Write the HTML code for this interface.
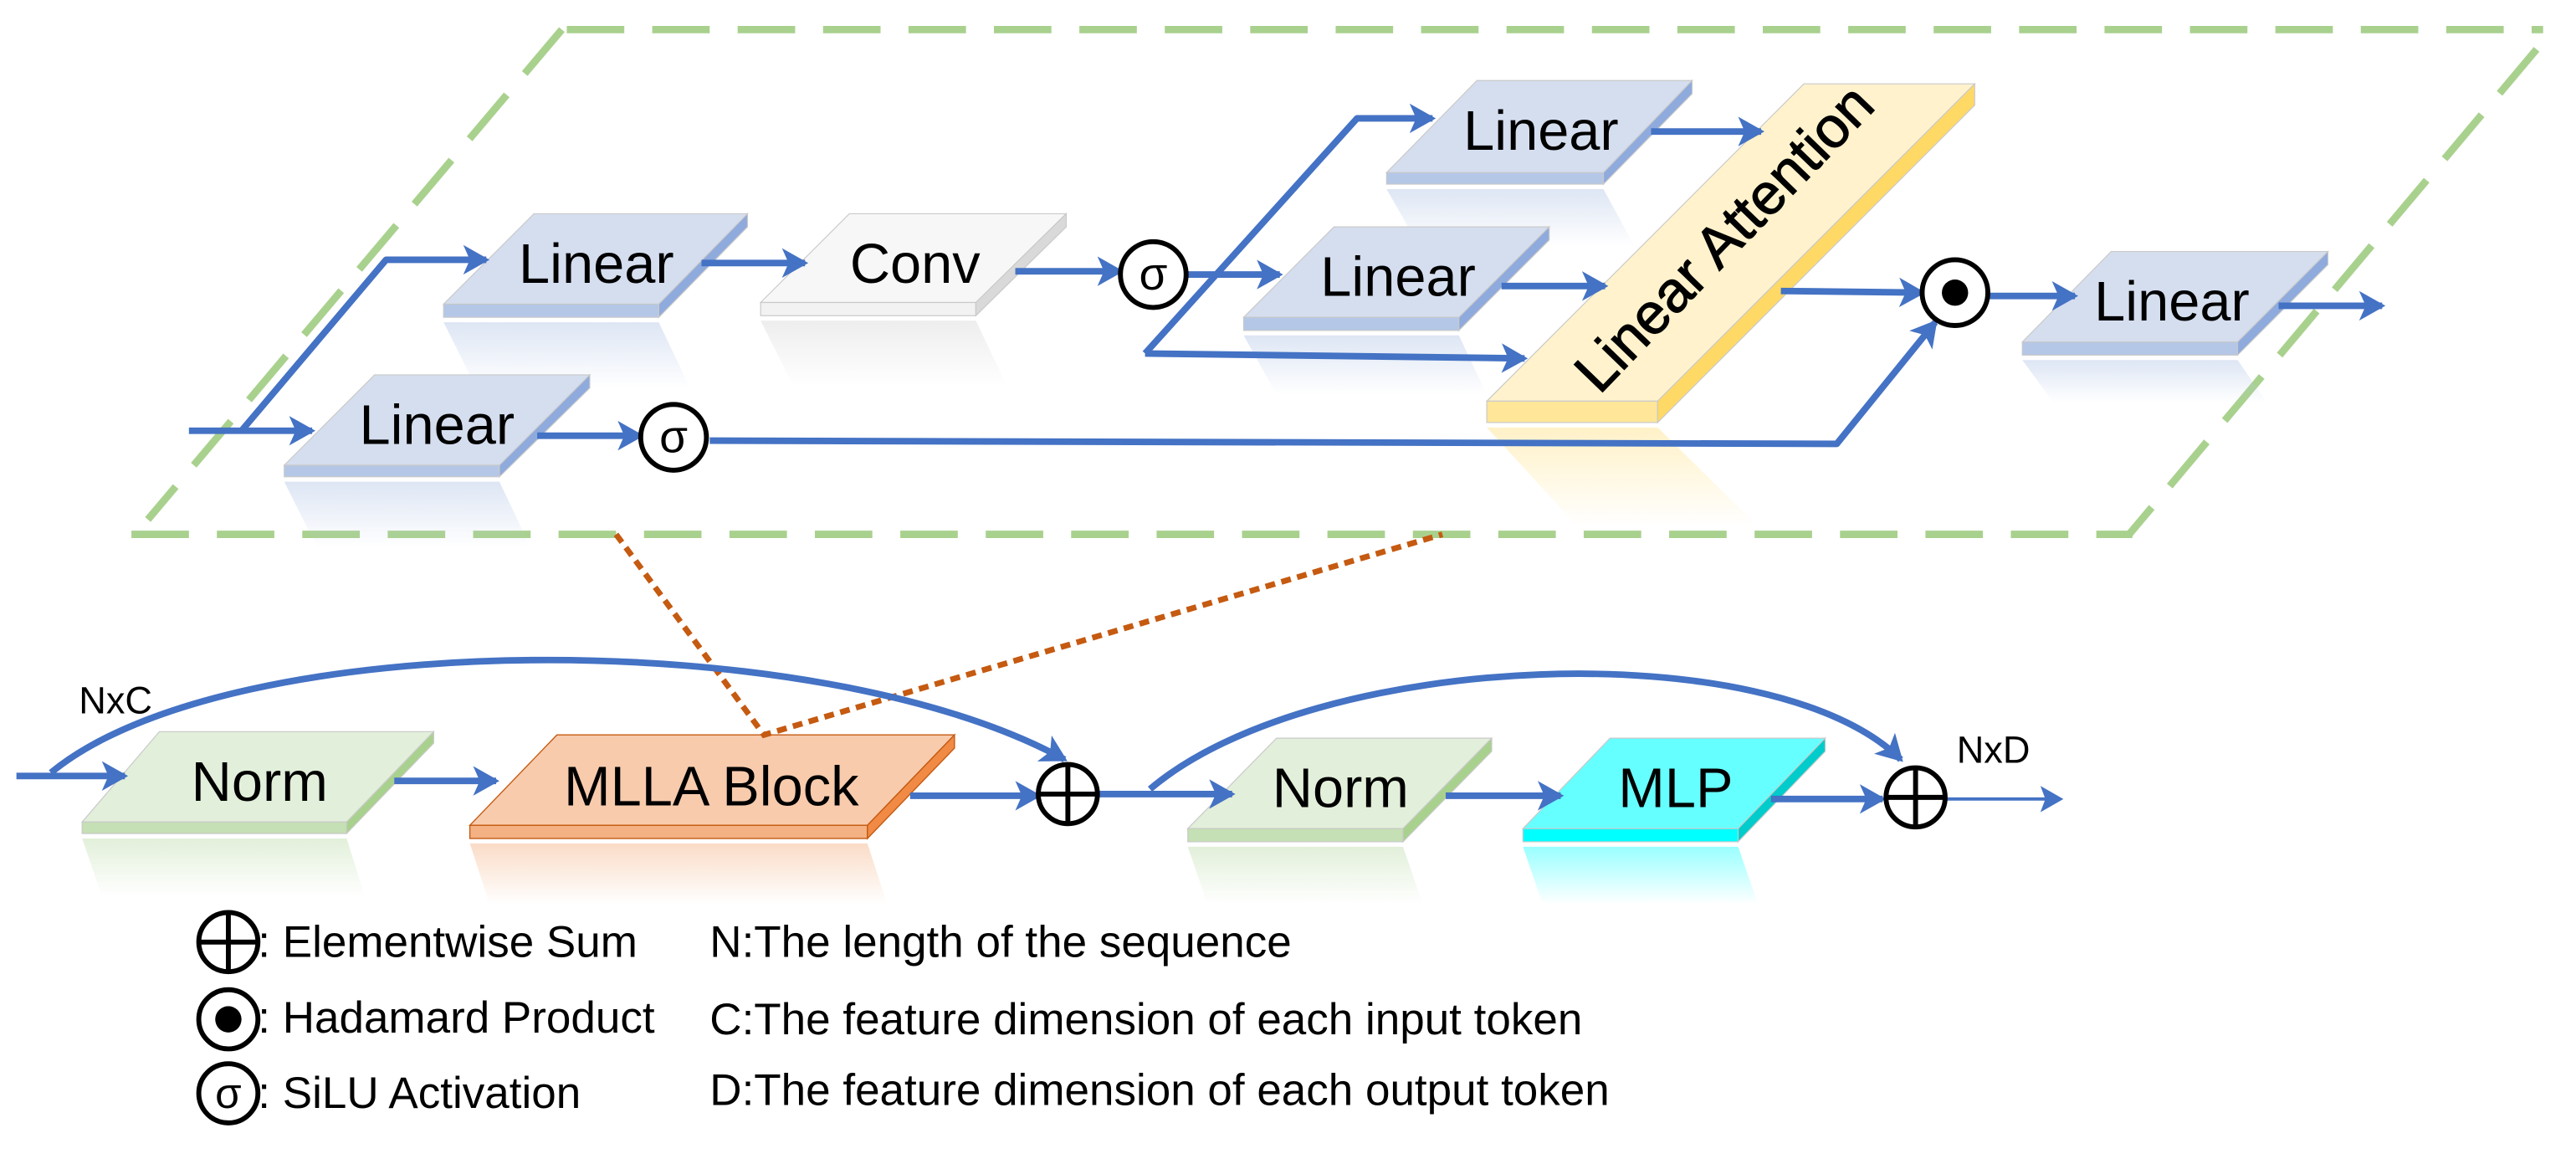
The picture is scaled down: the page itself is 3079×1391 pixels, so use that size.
<!DOCTYPE html>
<html><head><meta charset="utf-8"><style>
html,body{margin:0;padding:0;background:#fff;}
svg{display:block;}
text{font-family:"Liberation Sans",sans-serif;fill:#000;}
</style></head><body>
<svg width="3079" height="1391" viewBox="0 0 1568 708" preserveAspectRatio="none" xmlns="http://www.w3.org/2000/svg">
<defs>
<marker id="a" markerUnits="userSpaceOnUse" markerWidth="16" markerHeight="18" refX="14" refY="9" orient="auto">
<path d="M0,0 L16,9 L0,18 L4,9 Z" fill="#4472c4"/></marker>
<marker id="a2" markerUnits="userSpaceOnUse" markerWidth="14" markerHeight="16" refX="12" refY="8" orient="auto">
<path d="M0,0 L14,8 L0,16 L3,8 Z" fill="#4472c4"/></marker>
<linearGradient id="rb" x1="0" y1="0" x2="0" y2="1"><stop offset="0" stop-color="#b4c7e7" stop-opacity="0.45"/><stop offset="1" stop-color="#b4c7e7" stop-opacity="0"/></linearGradient>
<linearGradient id="rg" x1="0" y1="0" x2="0" y2="1"><stop offset="0" stop-color="#dcdcdc" stop-opacity="0.5"/><stop offset="1" stop-color="#dcdcdc" stop-opacity="0"/></linearGradient>
<linearGradient id="ry" x1="0" y1="0" x2="0" y2="1"><stop offset="0" stop-color="#ffe699" stop-opacity="0.55"/><stop offset="1" stop-color="#ffe699" stop-opacity="0"/></linearGradient>
<linearGradient id="rn" x1="0" y1="0" x2="0" y2="1"><stop offset="0" stop-color="#c5e0b4" stop-opacity="0.5"/><stop offset="1" stop-color="#c5e0b4" stop-opacity="0"/></linearGradient>
<linearGradient id="ro" x1="0" y1="0" x2="0" y2="1"><stop offset="0" stop-color="#f4b183" stop-opacity="0.45"/><stop offset="1" stop-color="#f4b183" stop-opacity="0"/></linearGradient>
<linearGradient id="rc" x1="0" y1="0" x2="0" y2="1"><stop offset="0" stop-color="#00ffff" stop-opacity="0.4"/><stop offset="1" stop-color="#00ffff" stop-opacity="0"/></linearGradient>
</defs>

<g stroke="#a9d18e" stroke-width="4.5" fill="none" stroke-dasharray="35 17">
<path d="M80,325 L1298,325"/>
<path d="M345,18 L1548,18"/>
<path d="M1544,30 L1296,325"/>
<path d="M342,18 L90,316"/>
</g>

<polygon points="270,196 401,196 420,236 290,236" fill="url(#rb)"/>
<polygon points="463,195 594,195 613,235 483,235" fill="url(#rg)"/>
<polygon points="173,293 304,293 323,333 193,333" fill="url(#rb)"/>
<polygon points="844,115 976,115 995,150 864,150" fill="url(#rb)"/>
<polygon points="757,204 888,204 905,240 777,240" fill="url(#rb)"/>
<polygon points="905,260 1009,260 1070,320 960,320" fill="url(#ry)"/>
<polygon points="1231,219 1362,219 1380,245 1250,245" fill="url(#rb)"/>
<polygon points="50,510 211,510 222,545 62,545" fill="url(#rn)"/>
<polygon points="286,513 528,513 540,550 298,550" fill="url(#ro)"/>
<polygon points="723,515 854,515 866,550 735,550" fill="url(#rn)"/>
<polygon points="927,515 1058,515 1070,550 939,550" fill="url(#rc)"/>

<g stroke="#c9c9c9" stroke-width="0.6">
<polygon points="325,130 455,130 401,185 270,185" fill="#d5deef"/>
<rect x="270" y="185" width="131" height="8" fill="#b4c7e7"/>
<polygon points="455,130 455,138 401,193 401,185" fill="#8faadc"/>

<polygon points="517,130 649,130 594,184 463,184" fill="#f7f7f7"/>
<rect x="463" y="184" width="131" height="8" fill="#f2f2f2"/>
<polygon points="649,130 649,138 594,192 594,184" fill="#d9d9d9"/>

<polygon points="228,228 359,228 304,283 173,283" fill="#d5deef"/>
<rect x="173" y="283" width="131" height="7" fill="#b4c7e7"/>
<polygon points="359,228 359,236 304,290 304,283" fill="#8faadc"/>

<polygon points="899,49 1030,49 976,105 844,105" fill="#d5deef"/>
<rect x="844" y="105" width="132" height="7" fill="#b4c7e7"/>
<polygon points="1030,49 1030,57 976,112 976,105" fill="#8faadc"/>

<polygon points="812,138 943,138 888,193 757,193" fill="#d5deef"/>
<rect x="757" y="193" width="131" height="8" fill="#b4c7e7"/>
<polygon points="943,138 943,146 888,201 888,193" fill="#8faadc"/>

<polygon points="1098,51 1202,51 1009,244 905,244" fill="#fff2cc"/>
<rect x="905" y="244" width="104" height="13" fill="#ffe699"/>
<polygon points="1202,51 1202,64 1009,257 1009,244" fill="#ffd966"/>

<polygon points="1285,153 1417,153 1362,208 1231,208" fill="#d5deef"/>
<rect x="1231" y="208" width="131" height="8" fill="#b4c7e7"/>
<polygon points="1417,153 1417,161 1362,216 1362,208" fill="#8faadc"/>

<polygon points="97,445 264,445 211,500 50,500" fill="#e2efda"/>
<rect x="50" y="500" width="161" height="7" fill="#c5e0b4"/>
<polygon points="264,445 264,452 211,507 211,500" fill="#a9d18e"/>

<polygon points="777,449 908,449 854,504 723,504" fill="#e2efda"/>
<rect x="723" y="504" width="131" height="8" fill="#c5e0b4"/>
<polygon points="908,449 908,457 854,512 854,504" fill="#a9d18e"/>

<polygon points="980,449 1111,449 1058,504 927,504" fill="#66ffff"/>
<rect x="927" y="504" width="131" height="8" fill="#00ffff"/>
<polygon points="1111,449 1111,457 1058,512 1058,504" fill="#00cccc"/>
</g>
<g stroke="#c55a11" stroke-width="0.7">
<polygon points="339,447 581,447 528,502 286,502" fill="#f8cbad"/>
<rect x="286" y="502" width="242" height="8" fill="#f4b183"/>
<polygon points="581,447 581,455 528,510 528,502" fill="#f08a45"/>
</g>

<g font-size="34" text-anchor="middle">
<text x="363" y="172">Linear</text>
<text x="557" y="172">Conv</text>
<text x="266" y="270">Linear</text>
<text x="938" y="91">Linear</text>
<text x="851" y="180">Linear</text>
<text x="1322" y="195">Linear</text>
<text x="158" y="487">Norm</text>
<text x="433" y="490">MLLA Block</text>
<text x="816" y="491">Norm</text>
<text x="1020" y="491">MLP</text>
</g>
<text font-size="35" text-anchor="middle" stroke="#000" stroke-width="0.6" transform="translate(1058,153) rotate(-46)">Linear Attention</text>

<g stroke="#4472c4" stroke-width="4" fill="none" stroke-linejoin="round">
<path d="M115,262 L190,262" marker-end="url(#a)"/>
<path d="M147,262 L235,158 L296,158" marker-end="url(#a)"/>
<path d="M427,160 L490,160" marker-end="url(#a)"/>
<path d="M618,165 L682,165" marker-end="url(#a)"/>
<path d="M327,265 L390,265" marker-end="url(#a)"/>
<path d="M432,268 L1118,270 L1178,196" marker-end="url(#a)"/>
<path d="M722,167 L779,167" marker-end="url(#a)"/>
<path d="M697,215 L826,72 L872,72" marker-end="url(#a)"/>
<path d="M697,215 L928,218" marker-end="url(#a)"/>
<path d="M1005,80 L1072,80" marker-end="url(#a)"/>
<path d="M914,174 L977,174" marker-end="url(#a)"/>
<path d="M1084,177 L1170,178" marker-end="url(#a)"/>
<path d="M1210,180 L1263,180" marker-end="url(#a)"/>
<path d="M1387,186 L1450,186" marker-end="url(#a)"/>
</g>

<g stroke="#000" stroke-width="3" fill="#fff">
<circle cx="702" cy="167" r="20"/>
<circle cx="410" cy="266" r="20"/>
<circle cx="1190" cy="178" r="20"/>
</g>
<circle cx="1190" cy="178" r="8" fill="#000"/>
<g font-size="28" text-anchor="middle">
<text x="702" y="176">σ</text>
<text x="410" y="275">σ</text>
</g>

<path d="M375,325 L465,447 L878,325" stroke="#c55a11" stroke-width="3.5" fill="none" stroke-dasharray="6 4"/>

<g stroke="#4472c4" stroke-width="4" fill="none">
<path d="M10,472 L76,472" marker-end="url(#a)"/>
<path d="M31,470 C140,380 500,380 648,462" marker-end="url(#a)"/>
<path d="M240,475 L302,475" marker-end="url(#a)"/>
<path d="M554,484 L632,484" marker-end="url(#a)"/>
<path d="M668,483 L750,483" marker-end="url(#a)"/>
<path d="M700,480 C800,395 1080,385 1157,462" marker-end="url(#a)"/>
<path d="M880,484 L950,484" marker-end="url(#a)"/>
<path d="M1078,486 L1146,486" marker-end="url(#a)"/>
</g>
<path d="M1185,486 L1254,486" stroke="#4472c4" stroke-width="2" fill="none" marker-end="url(#a2)"/>

<g stroke="#000" stroke-width="3" fill="#fff">
<circle cx="650" cy="483" r="18"/>
<circle cx="1166" cy="485" r="18"/>
<circle cx="139" cy="573" r="18"/>
<circle cx="139" cy="620" r="18"/>
<circle cx="139" cy="665" r="18"/>
</g>
<g stroke="#000" stroke-width="3">
<path d="M632,483 L668,483 M650,465 L650,501"/>
<path d="M1148,485 L1184,485 M1166,467 L1166,503"/>
<path d="M121,573 L157,573 M139,555 L139,591"/>
</g>
<circle cx="139" cy="620" r="8" fill="#000"/>
<text x="139" y="674" font-size="26" text-anchor="middle">σ</text>

<text x="48" y="434" font-size="23">NxC</text>
<text x="1191" y="464" font-size="23">NxD</text>

<g font-size="27">
<text x="157" y="582">: Elementwise Sum</text>
<text x="157" y="628">: Hadamard Product</text>
<text x="157" y="674">: SiLU Activation</text>
<text x="432" y="582">N:The length of the sequence</text>
<text x="432" y="629">C:The feature dimension of each input token</text>
<text x="432" y="672">D:The feature dimension of each output token</text>
</g>
</svg>
</body></html>
